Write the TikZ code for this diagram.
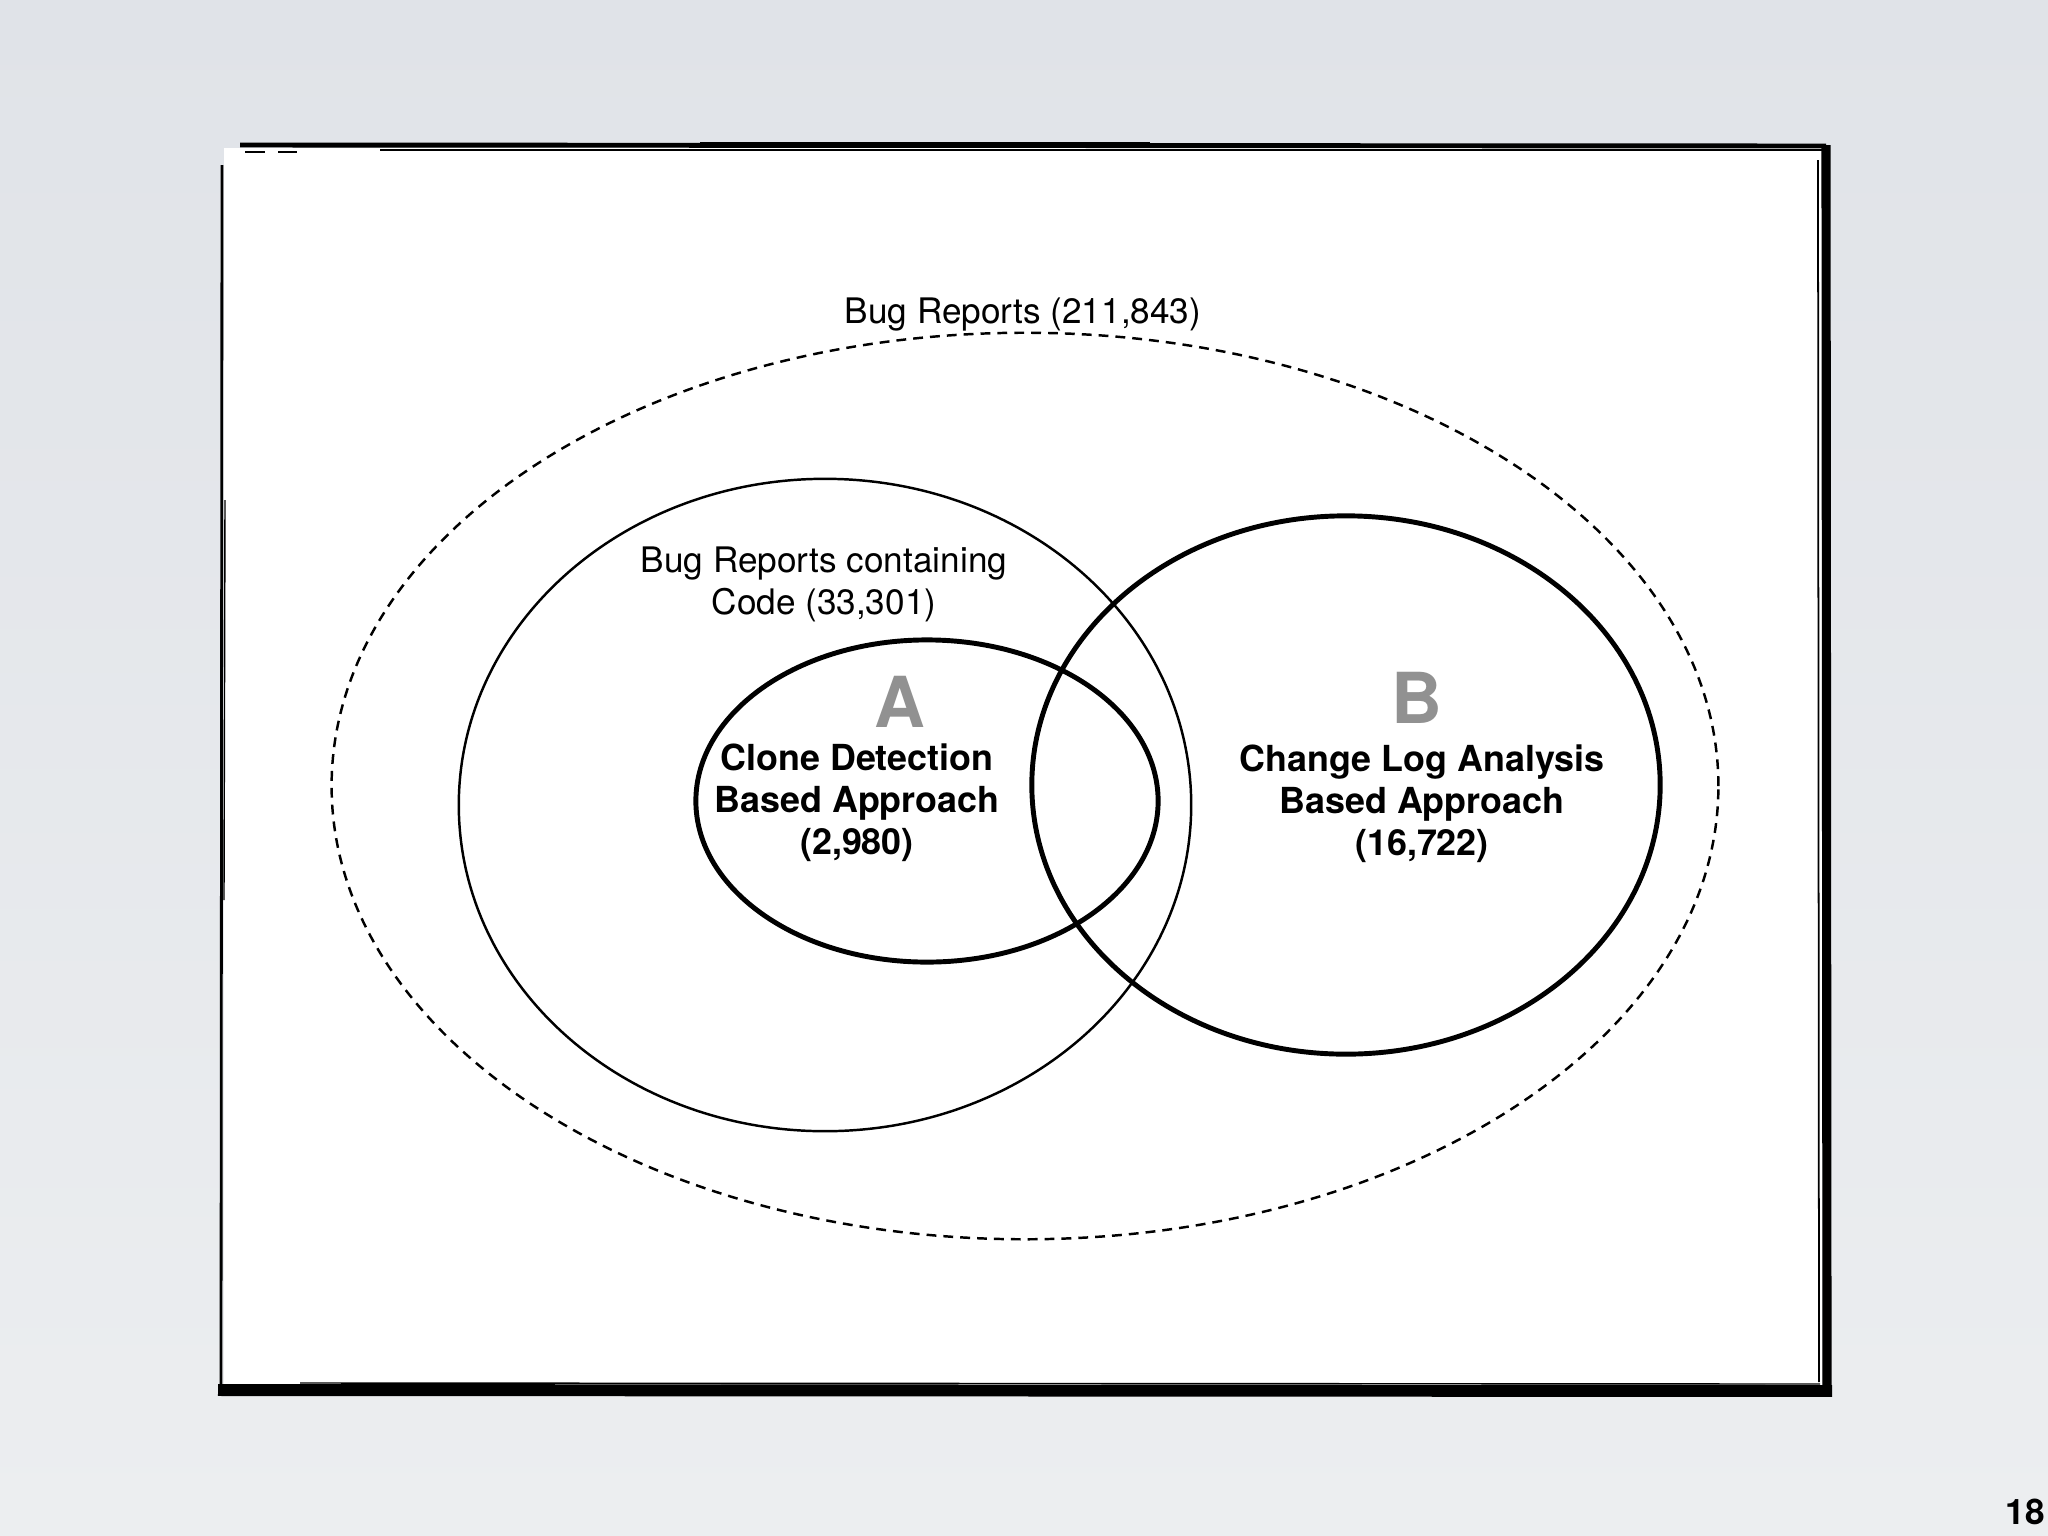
\documentclass[tikz,border=0pt]{standalone}
\usepackage{fontspec}
\setmainfont{TeX Gyre Heros}
\usetikzlibrary{shapes.geometric}
\definecolor{slidebg}{RGB}{224,227,232}
\definecolor{slidebglow}{RGB}{236,238,240}
\definecolor{lettergray}{RGB}{145,145,145}
\tikzset{
	setline/.style={draw, ellipse, inner sep=0pt},
	setlabel/.style={align=center, font=\fontsize{10}{12}\selectfont},
	approach/.style={align=center, font=\fontsize{10.2}{12}\selectfont\bfseries},
	bigletter/.style={text=lettergray, font=\fontsize{20}{20}\selectfont\bfseries, inner sep=1pt}
}
\begin{document}
\begin{tikzpicture}[x=0.01cm, y=-0.01cm]
		\shade[top color=slidebg, bottom color=slidebglow] (0,0) rectangle (2048,1536);
		\useasboundingbox (0,0) rectangle (2048,1536);
		% sketchy frame
		\fill[white] (224,148) rectangle (1822,1386);
		\draw[line width=1.4pt] (240,145) -- (1826,146);
		\draw[line width=0.6pt] (245,152) -- (265,152) (278,152) -- (297,152) (380,150) -- (1826,150);
		\draw[line width=0.5pt] (700,143) -- (1150,143);
		\draw[line width=2.6pt] (1826,145) -- (1827,1392);
		\draw[line width=0.5pt] (1818,160) -- (1819,1382);
		\draw[line width=3.4pt] (218,1390) -- (1832,1391);
		\draw[line width=0.4pt] (300,1383) -- (1820,1384);
		\draw[line width=0.8pt] (222,165) -- (221,1392);
		\draw[line width=0.4pt] (225,500) -- (224,900);
		% sets
		\node[setline, dashed, dash pattern=on 2.8pt off 2pt, line width=0.7pt,
			minimum width=13.86cm, minimum height=9.06cm] (reports) at (1025,786) {};
		\node[setline, line width=0.7pt, minimum width=7.32cm, minimum height=6.52cm] (withcode) at (825,805) {};
		\node[setline, line width=1.4pt, minimum width=4.62cm, minimum height=3.22cm] (clone) at (927,801) {};
		\node[setline, line width=1.4pt, minimum width=6.28cm, minimum height=5.38cm] (changelog) at (1346,785) {};
		% labels
		\node[setlabel] (reportslabel) at (1023,315) {Bug Reports (211,843)};
		\node[setlabel] (withcodelabel) at (824,584) {Bug Reports containing\\Code (33,301)};
		\node[bigletter] (lettera) at (900,702) {A};
		\node[approach] (clonelabel) at (857,803) {Clone Detection\\Based Approach\\(2,980)};
		\node[bigletter] (letterb) at (1417,698) {B};
		\node[approach] (changeloglabel) at (1422,804) {Change Log Analysis\\Based Approach\\(16,722)};
		\node[font=\fontsize{10}{12}\selectfont\bfseries] (pagenum) at (2025,1512) {18};
\end{tikzpicture}
\end{document}
